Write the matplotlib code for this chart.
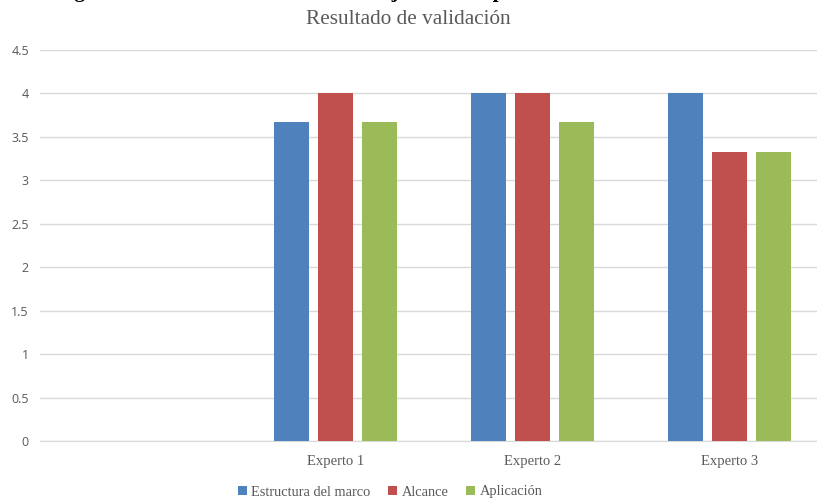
import matplotlib.pyplot as plt
import numpy as np

# Datos del gráfico
categorias = ['', 'Experto 1', 'Experto 2', 'Experto 3']
estructura = [np.nan, 3.67, 4.0, 4.0]
alcance = [np.nan, 4.0, 4.0, 3.33]
aplicacion = [np.nan, 3.67, 3.67, 3.33]
yticks = [0, 0.5, 1, 1.5, 2, 2.5, 3, 3.5, 4, 4.5]
yticklabels = ['0', '0.5', '1', '1.5', '2', '2.5', '3', '3.5', '4', '4.5']

series = [
    ('Estructura del marco', estructura, '#4f81bd'),
    ('Alcance', alcance, '#c0504d'),
    ('Aplicación', aplicacion, '#9bbb59'),
]

fig = plt.figure(figsize=(8.17, 5.04), dpi=100)
ax = fig.add_axes([40 / 817, 63 / 504, 788 / 817, 391 / 504])

x = np.arange(len(categorias))
ancho = 0.178
paso = 0.223
for i, (nombre, valores, color) in enumerate(series):
    ax.bar(x + (i - 1) * paso, valores, width=ancho, color=color,
           label=nombre, zorder=3)

ax.set_xlim(-0.5, 3.5)
ax.set_ylim(0, 4.5)
ax.set_yticks(yticks)
ax.set_yticklabels(yticklabels, fontsize=9, color='#595959', family='Open Sans')
ax.set_xticks(x)
ax.set_xticklabels(categorias, fontsize=10.5, color='#595959', family='Liberation Serif')
ax.tick_params(axis='both', length=0)
ax.tick_params(axis='x', pad=10)
ax.tick_params(axis='y', pad=8)

ax.grid(axis='y', color='#d9d9d9', linewidth=1, zorder=0)
for s in ['top', 'right', 'left']:
    ax.spines[s].set_visible(False)
ax.spines['bottom'].set_color('#d9d9d9')

fig.text(0.5, 1 - 19 / 504, 'Resultado de validación', ha='center', va='center',
         fontsize=15.3, color='#595959', family='Liberation Serif')

# encabezado cortado en la parte superior (como en la imagen original)
fig.text(548 / 817, 1 + 3 / 504,
         'Figura 1. Resultado de validación del juicio de expertos',
         ha='right', va='baseline', fontsize=15, fontweight='bold',
         color='black', family='Liberation Serif')

fig.legend(loc='center', bbox_to_anchor=(390 / 817, 12 / 504), ncol=3,
           frameon=False, handlelength=0.65, handleheight=0.65,
           handletextpad=0.3, columnspacing=1.2,
           prop={'family': 'Liberation Serif', 'size': 10.4},
           labelcolor='#595959')

fig.savefig('out.png', dpi=100)
